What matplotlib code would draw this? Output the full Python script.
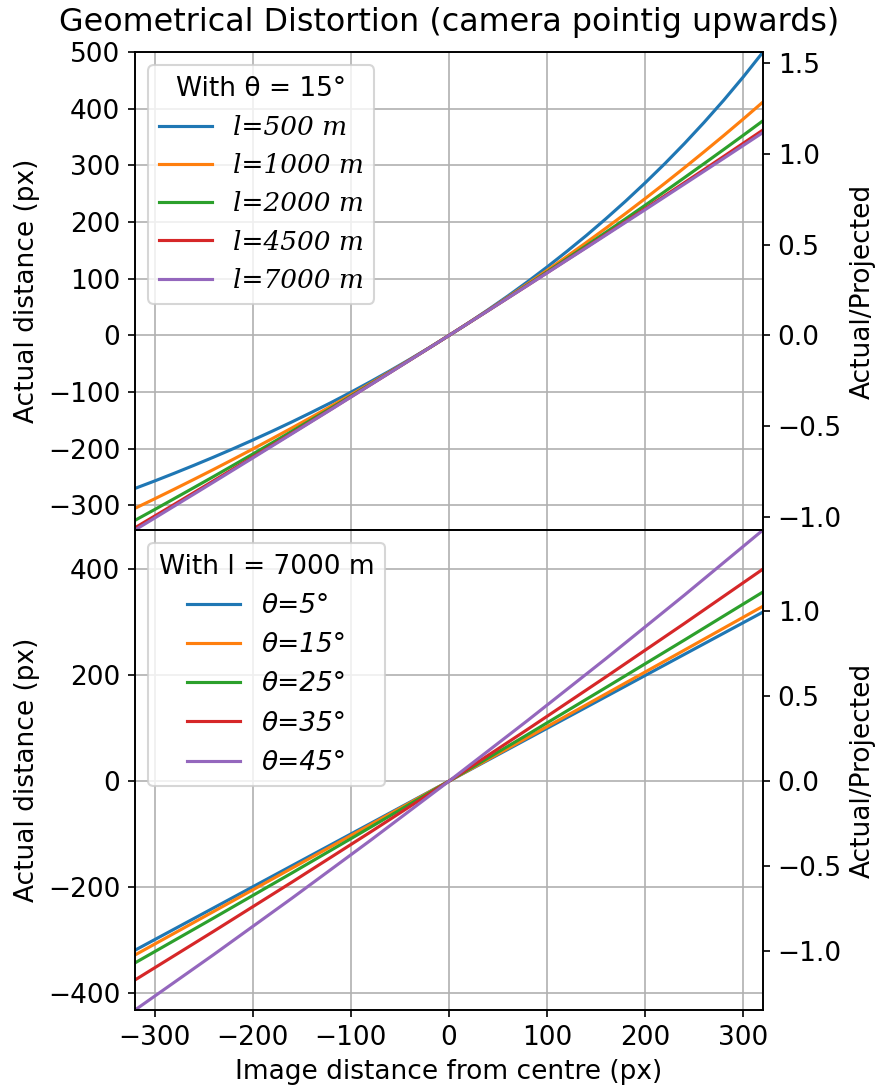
import matplotlib.pyplot as plt
import numpy as np

plt.rcParams["font.size"] = 12.7

# image distance from centre (px) at which the curves were sampled
x_top = list(range(-320, 321, 20))
x_bot = [-320, -240, -160, -80, 0, 80, 160, 240, 320]

# theta = 15 deg, different distances l
l_labels = ["l=500 m", "l=1000 m", "l=2000 m", "l=4500 m", "l=7000 m"]
l500 = [-269.9, -256.8, -243.2, -229.2, -214.8, -199.9, -184.6, -168.8, -152.5, -135.6, -118.3, -100.2, -81.5, -62.2, -42.2, -21.5, 0,
        22.3, 45.5, 69.6, 94.7, 120.8, 148.1, 176.4, 206.1, 237.0, 269.4, 303.2, 338.7, 376.0, 415.1, 456.4, 500.0]
l1000 = [-305.0, -288.3, -271.3, -254.0, -236.5, -218.6, -200.4, -181.9, -163.1, -144.0, -124.5, -104.7, -84.5, -63.9, -43.0, -21.7, 0,
         22.1, 44.6, 67.6, 91.0, 114.9, 139.3, 164.1, 189.4, 215.2, 241.6, 268.5, 296.0, 324.1, 352.7, 382.0, 411.9]
l2000 = [-326.2, -307.2, -287.9, -268.5, -249.0, -229.2, -209.3, -189.2, -169.0, -148.5, -127.9, -107.0, -86.0, -64.8, -43.4, -21.8, 0,
         22.0, 44.2, 66.7, 89.3, 112.2, 135.3, 158.5, 182.1, 205.8, 229.8, 254.0, 278.5, 303.2, 328.1, 353.3, 378.8]
l4500 = [-339.3, -318.7, -298.1, -277.3, -256.5, -235.6, -214.7, -193.6, -172.4, -151.2, -129.9, -108.4, -86.9, -65.3, -43.6, -21.9, 0,
         22.0, 44.0, 66.1, 88.3, 110.7, 133.2, 155.6, 178.3, 200.9, 223.7, 246.6, 269.6, 292.7, 315.9, 339.2, 362.5]
l7000 = [-343.2, -322.2, -301.1, -280.0, -258.8, -237.5, -216.2, -194.8, -173.4, -151.9, -130.5, -108.8, -87.1, -65.5, -43.7, -21.9, 0,
         21.9, 43.9, 66.0, 88.1, 110.3, 132.6, 154.8, 177.2, 199.6, 222.0, 244.6, 267.2, 289.8, 312.5, 335.3, 358.1]

# l = 7000 m, different tilt angles
t_labels = ["θ=5°", "θ=15°", "θ=25°", "θ=35°", "θ=45°"]
t5 = [-319.0, -239.3, -159.5, -79.8, 0, 79.8, 159.5, 239.3, 319.0]
t15 = [-328.0, -246.1, -164.2, -82.1, 0, 82.3, 164.7, 247.3, 330.0]
t25 = [-342.9, -258.4, -173.2, -87.0, 0, 87.8, 176.7, 266.3, 356.9]
t35 = [-375.1, -283.5, -190.5, -96.0, 0, 97.6, 196.8, 297.6, 400.1]
t45 = [-431.8, -327.5, -220.8, -111.7, 0, 114.3, 231.3, 351.1, 473.8]

half_width = 320

fig = plt.figure(figsize=(879/150, 1090/150), dpi=150)
ax1 = fig.add_axes([0.1536, 0.5138, 0.7145, 0.4385])
ax2 = fig.add_axes([0.1536, 0.0734, 0.7145, 0.4404], sharex=ax1)

top_series = [l500, l1000, l2000, l4500, l7000]
for ys, lab in zip(top_series, l_labels):
    ax1.plot(x_top, ys, label=lab)
ax1.set_xlim(-half_width, half_width)
lo = min(min(s) for s in top_series)
hi = max(max(s) for s in top_series)
ax1.set_ylim(lo, hi)
ax1.grid()
ax1.set_ylabel("Actual distance (px)")
ax1.set_title("Geometrical Distortion (camera pointig upwards)", pad=10)
ax1.legend(title="With θ = 15°", loc="upper left",
           prop={"family": "DejaVu Serif", "style": "italic"})
plt.setp(ax1.get_xticklabels(), visible=False)
ax1r = ax1.twinx()
ax1r.set_ylim(lo / half_width, hi / half_width)
ax1r.set_ylabel("Actual/Projected")

bot_series = [t5, t15, t25, t35, t45]
for ys, lab in zip(bot_series, t_labels):
    ax2.plot(x_bot, ys, label=lab)
lo = min(min(s) for s in bot_series)
hi = max(max(s) for s in bot_series)
ax2.set_ylim(lo, hi)
ax2.grid()
ax2.set_ylabel("Actual distance (px)")
ax2.set_xlabel("Image distance from centre (px)")
ax2.legend(title="With l = 7000 m", loc="upper left", prop={"style": "italic"})
ax2r = ax2.twinx()
ax2r.set_ylim(lo / half_width, hi / half_width)
ax2r.set_ylabel("Actual/Projected")

fig.savefig("out.png", dpi=150)
